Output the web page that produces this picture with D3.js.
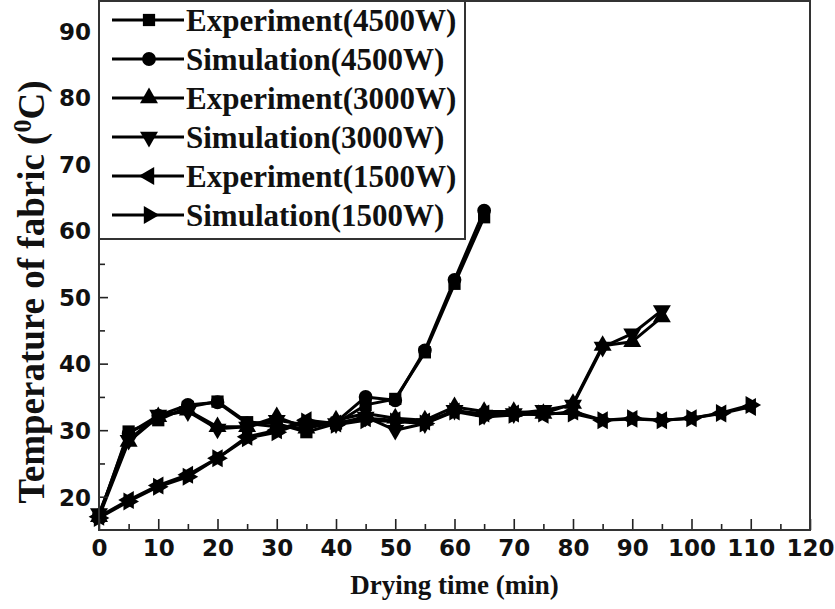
<!DOCTYPE html>
<html>
<head>
<meta charset="utf-8">
<script src="https://cdn.jsdelivr.net/npm/d3@7"></script>
<style>
  body { margin: 0; background: #fff; }
  svg { display: block; }
</style>
</head>
<body>
<svg id="chart" width="835" height="609"></svg>
<script>
// drying time (min)
const timeExp4500 = [0, 5, 10, 15, 20, 25, 30, 35, 40, 45, 50, 55, 60, 65];
const timeExp3000 = [0, 5, 10, 15, 20, 25, 30, 35, 40, 45, 50, 55, 60, 65, 70, 75, 80, 85, 90, 95];
const timeExp1500 = [0, 5, 10, 15, 20, 25, 30, 35, 40, 45, 50, 55, 60, 65, 70, 75, 80, 85, 90, 95, 100, 105, 110];

// fabric temperature (C)
const exp4500 = [17.0, 29.8, 31.5, 33.5, 34.3, 31.2, 31.0, 29.7, 31.0, 33.8, 34.7, 41.7, 52.0, 62.0];
const sim4500 = [17.2, 29.5, 32.2, 33.8, 34.2, 31.0, 30.5, 30.3, 31.2, 35.0, 34.5, 42.0, 52.6, 63.0];
const exp3000 = [17.0, 28.3, 32.0, 33.0, 30.5, 30.5, 32.0, 30.3, 31.5, 32.5, 31.8, 31.5, 33.5, 32.8, 32.8, 32.5, 34.0, 42.7, 43.3, 47.0];
const sim3000 = [17.5, 28.5, 32.3, 32.8, 30.2, 30.5, 31.5, 30.8, 31.0, 32.0, 30.0, 31.0, 33.0, 32.3, 32.5, 33.0, 33.8, 42.5, 44.5, 48.0];
const exp1500 = [17.0, 19.5, 21.7, 23.3, 25.8, 29.0, 30.0, 31.5, 31.0, 31.8, 31.5, 31.3, 32.8, 32.5, 32.5, 32.3, 32.8, 31.5, 31.7, 31.5, 31.8, 32.5, 33.5];
const sim1500 = [16.8, 19.3, 21.5, 23.0, 25.8, 28.8, 29.7, 31.3, 30.8, 31.5, 31.3, 31.0, 32.8, 32.0, 32.3, 32.5, 32.5, 31.5, 31.8, 31.5, 31.8, 32.6, 33.8];

const seriesNames = ['Experiment(4500W)', 'Simulation(4500W)', 'Experiment(3000W)',
                     'Simulation(3000W)', 'Experiment(1500W)', 'Simulation(1500W)'];
const xTickValues = [0, 10, 20, 30, 40, 50, 60, 70, 80, 90, 100, 110, 120];
const yTickValues = [20, 30, 40, 50, 60, 70, 80, 90];

const series = [
  { name: seriesNames[0], t: timeExp4500, v: exp4500, shape: d3.symbolSquare, rot: 0 },
  { name: seriesNames[1], t: timeExp4500, v: sim4500, shape: d3.symbolCircle, rot: 0 },
  { name: seriesNames[2], t: timeExp3000, v: exp3000, shape: d3.symbolTriangle, rot: 0 },
  { name: seriesNames[3], t: timeExp3000, v: sim3000, shape: d3.symbolTriangle, rot: 180 },
  { name: seriesNames[4], t: timeExp1500, v: exp1500, shape: d3.symbolTriangle, rot: -90 },
  { name: seriesNames[5], t: timeExp1500, v: sim1500, shape: d3.symbolTriangle, rot: 90 }
];

const svg = d3.select('#chart');
const pLeft = 99, pRight = 810, pTop = 1, pBottom = 530;

const x = d3.scaleLinear().domain([0, 120]).range([pLeft, pRight]);
const y = d3.scaleLinear().domain([15, 94.5]).range([pBottom, pTop]);

const tickFont = '"DejaVu Sans", Arial, sans-serif';
const serif = '"Liberation Serif", "Times New Roman", serif';
const markSize = s => s.shape === d3.symbolTriangle ? 140 : 150;

// data lines + markers
const line = d3.line().x(d => x(d[0])).y(d => y(d[1]));
series.forEach(s => {
  const pts = s.t.map((t, i) => [t, s.v[i]]);
  svg.append('path')
    .datum(pts)
    .attr('d', line)
    .attr('fill', 'none')
    .attr('stroke', '#000')
    .attr('stroke-width', 3)
    .attr('stroke-linejoin', 'round');
  svg.append('g')
    .selectAll('path')
    .data(pts)
    .join('path')
      .attr('d', d3.symbol(s.shape, markSize(s)))
      .attr('transform', d => `translate(${x(d[0])},${y(d[1])}) rotate(${s.rot})`)
      .attr('fill', '#000');
});

// axes (ticks inward)
const xAxis = svg.append('g').attr('transform', `translate(0,${pBottom})`)
  .call(d3.axisBottom(x).tickValues(xTickValues).tickSize(-11).tickPadding(10).tickSizeOuter(0));
svg.append('g').attr('transform', `translate(0,${pBottom})`)
  .call(d3.axisBottom(x).tickValues(d3.range(5, 120, 10)).tickSize(-6).tickFormat('').tickSizeOuter(0));

const yAxis = svg.append('g').attr('transform', `translate(${pLeft},0)`)
  .call(d3.axisLeft(y).tickValues(yTickValues).tickSize(-9).tickPadding(8).tickSizeOuter(0));
svg.append('g').attr('transform', `translate(${pLeft},0)`)
  .call(d3.axisLeft(y).tickValues(d3.range(25, 95, 10)).tickSize(-6).tickFormat('').tickSizeOuter(0));

svg.selectAll('.tick line').attr('stroke', '#222').attr('stroke-width', 1.6);
svg.selectAll('.domain').remove();
[xAxis, yAxis].forEach(a => a.selectAll('text')
  .attr('font-family', tickFont).attr('font-weight', 'bold')
  .attr('font-size', 23).attr('fill', '#111'));
yAxis.selectAll('text').attr('dy', '0.36em');

// frame
svg.append('rect')
  .attr('x', pLeft).attr('y', pTop)
  .attr('width', pRight - pLeft).attr('height', pBottom - pTop)
  .attr('fill', 'none').attr('stroke', '#333').attr('stroke-width', 2);

// legend
const lg = svg.append('g');
lg.append('rect')
  .attr('x', pLeft).attr('y', pTop)
  .attr('width', 366).attr('height', 238)
  .attr('fill', '#fff').attr('stroke', '#333').attr('stroke-width', 2);
series.forEach((s, i) => {
  const cy = 20 + i * 39;
  lg.append('line')
    .attr('x1', 112).attr('x2', 184).attr('y1', cy).attr('y2', cy)
    .attr('stroke', '#000').attr('stroke-width', 3);
  lg.append('path')
    .attr('d', d3.symbol(s.shape, markSize(s)))
    .attr('transform', `translate(149,${cy}) rotate(${s.rot})`)
    .attr('fill', '#000');
  lg.append('text')
    .attr('x', 186).attr('y', cy).attr('dy', '0.34em')
    .attr('font-family', serif).attr('font-weight', 'bold')
    .attr('font-size', 31).attr('fill', '#111')
    .text(s.name);
});

// axis titles
svg.append('text')
  .attr('x', (pLeft + pRight) / 2).attr('y', 594)
  .attr('text-anchor', 'middle')
  .attr('font-family', serif).attr('font-weight', 'bold')
  .attr('font-size', 27).attr('fill', '#111')
  .text('Drying time (min)');

const yt = svg.append('text')
  .attr('transform', `translate(44,292) rotate(-90)`)
  .attr('text-anchor', 'middle')
  .attr('font-family', serif).attr('font-weight', 'bold')
  .attr('font-size', 37).attr('fill', '#111');
yt.append('tspan').text('Temperature of fabric (');
yt.append('tspan').attr('dy', -13).attr('font-size', 26).text('0');
yt.append('tspan').attr('dy', 13).text('C)');
</script>
</body>
</html>
